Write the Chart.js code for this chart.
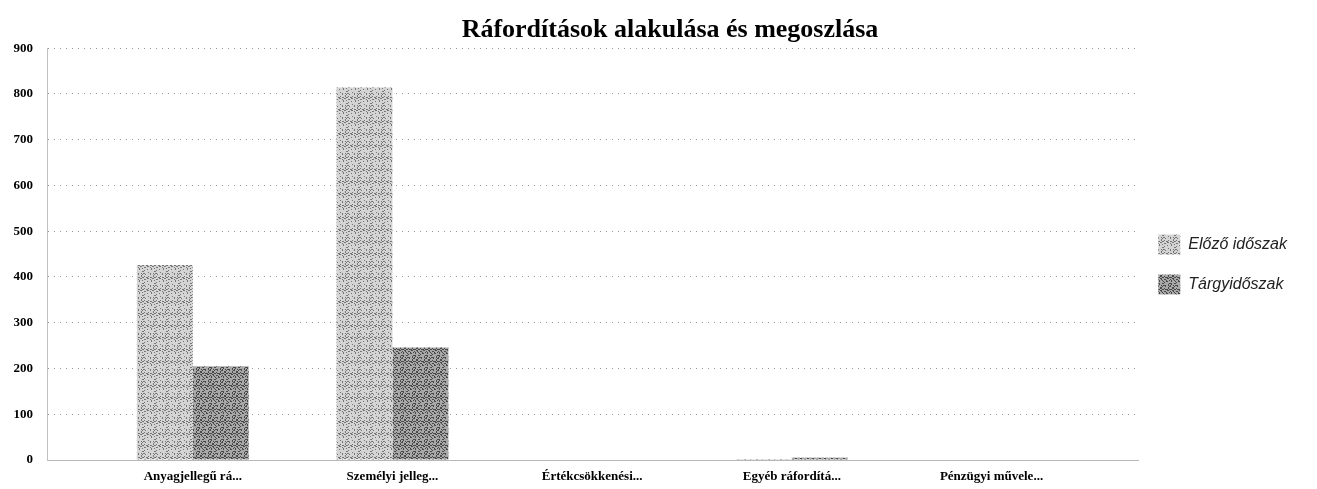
<!DOCTYPE html>
<html lang="hu">
<head>
  <meta charset="UTF-8" />
  <title>Ráfordítások alakulása és megoszlása</title>
  <script src="https://cdn.jsdelivr.net/npm/chart.js"></script>
  <style>
    html, body { margin: 0; padding: 0; background: #fff; }
    #wrap { width: 1317px; height: 489px; }
  </style>
</head>
<body>
  <div id="wrap">
    <canvas id="costChart" width="1317" height="489"></canvas>
  </div>

  <script>
    // Ráfordítás kategóriák és a két időszak értékei
    const categories = ['Anyagjellegű rá...', 'Személyi jelleg...', 'Értékcsökkenési...', 'Egyéb ráfordítá...', 'Pénzügyi művele...'];
    const elozoIdoszak = [426, 814, 0, 2, 0];
    const targyIdoszak = [205, 246, 0, 5, 0];
    const yTicks = [0, 100, 200, 300, 400, 500, 600, 700, 800, 900];

    // Szürke, pontozott (raszteres) kitöltés az oszlopokhoz
    function makeTexture(light, dark, density) {
      const c = document.createElement('canvas');
      c.width = 12;
      c.height = 12;
      const g = c.getContext('2d');
      g.fillStyle = light;
      g.fillRect(0, 0, 12, 12);
      g.fillStyle = dark;
      for (let y = 0; y < 12; y++) {
        for (let x = 0; x < 12; x++) {
          if (((x * 7 + y * 3 + (x * y) % 5) % 9) < density) g.fillRect(x, y, 1, 1);
        }
      }
      return g.createPattern(c, 'repeat');
    }

    const lightFill = makeTexture('#d4d4d4', '#767676', 2);
    const darkFill = makeTexture('#a8a8a8', '#4a4a4a', 3);

    const toPoints = arr => arr.map((v, i) => ({ x: i, y: v }));

    // a cím egy kicsit jobbra, a rajzterület fölé kerül
    const shiftTitle = {
      id: 'shiftTitle',
      afterLayout(chart) {
        if (chart.titleBlock) chart.titleBlock.left = 43;
      }
    };

    const ctx = document.getElementById('costChart').getContext('2d');
    const costChart = new Chart(ctx, {
      type: 'bar',
      data: {
        datasets: [
          {
            label: 'Előző időszak',
            data: toPoints(elozoIdoszak),
            backgroundColor: lightFill,
            borderWidth: 0,
            categoryPercentage: 0.56,
            barPercentage: 1.0
          },
          {
            label: 'Tárgyidőszak',
            data: toPoints(targyIdoszak),
            backgroundColor: darkFill,
            borderWidth: 0,
            categoryPercentage: 0.56,
            barPercentage: 1.0
          }
        ]
      },
      plugins: [shiftTitle],
      options: {
        responsive: false,
        animation: false,
        layout: { padding: { left: 10, right: 20, top: 0, bottom: 0 } },
        plugins: {
          title: {
            display: true,
            text: 'Ráfordítások alakulása és megoszlása',
            color: '#000',
            font: { family: 'Liberation Serif', size: 26, weight: 'bold' },
            padding: { top: 15, bottom: 2 }
          },
          legend: {
            position: 'right',
            title: {
              display: true,
              text: ' ',
              font: { size: 16 },
              padding: { top: 0, bottom: 21 }
            },
            labels: {
              color: '#222',
              boxWidth: 22,
              boxHeight: 20,
              padding: 20,
              font: { family: 'Liberation Sans', size: 16, style: 'italic' }
            }
          },
          tooltip: { enabled: false }
        },
        scales: {
          x: {
            type: 'linear',
            offset: false,
            min: -0.73,
            max: 4.735,
            afterBuildTicks: scale => {
              scale.ticks = categories.map((_, i) => ({ value: i }));
            },
            afterFit: scale => { scale.height = 29; },
            ticks: {
              autoSkip: false,
              maxRotation: 0,
              color: '#000',
              padding: 9,
              font: { family: 'Liberation Serif', size: 13, weight: 'bold' },
              callback: value => categories[value]
            },
            grid: { display: false, drawTicks: false },
            border: { display: true, color: '#b8b8b8', width: 1 }
          },
          y: {
            min: 0,
            max: 900,
            afterBuildTicks: scale => {
              scale.ticks = yTicks.map(v => ({ value: v }));
            },
            afterFit: scale => { scale.width = 37; },
            ticks: {
              color: '#000',
              padding: 14,
              font: { family: 'Liberation Serif', size: 13, weight: 'bold' }
            },
            grid: {
              color: '#9a9a9a',
              lineWidth: 1,
              drawTicks: false
            },
            border: { display: true, color: '#c0c0c0', width: 1, dash: [1, 5] }
          }
        }
      }
    });
  </script>
</body>
</html>
